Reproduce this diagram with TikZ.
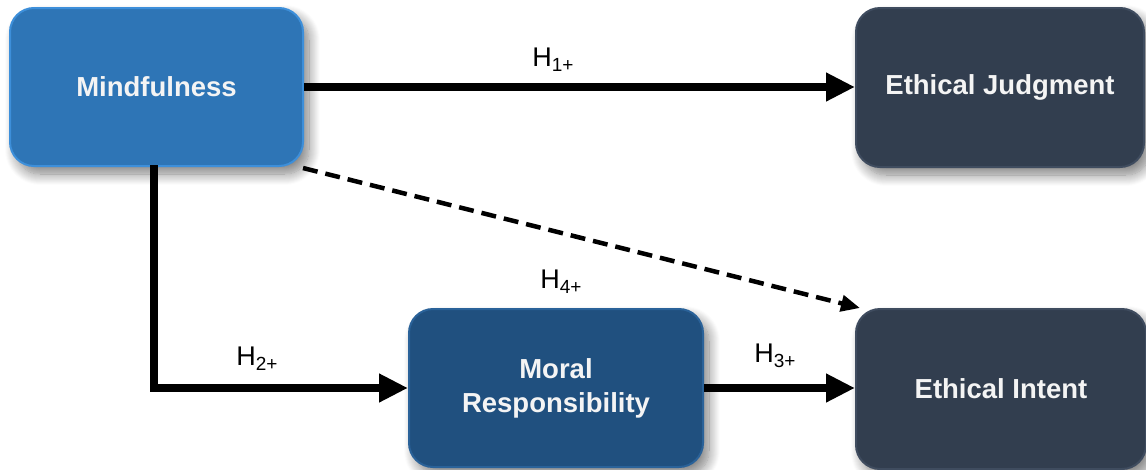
\documentclass[tikz,border=0pt]{standalone}
\usepackage{fontspec}
\setmainfont{Liberation Sans}
\usetikzlibrary{arrows.meta,shadows.blur}

\definecolor{mindblue}{HTML}{2E75B6}
\definecolor{mindedge}{HTML}{3D8FDA}
\definecolor{moralblue}{HTML}{20507F}
\definecolor{moraledge}{HTML}{2A6299}
\definecolor{slate}{HTML}{323E4F}
\definecolor{slateedge}{HTML}{3F4C5F}
\definecolor{boxtext}{HTML}{F4F4F4}

\newcommand{\hyp}[1]{H\raisebox{-0.34ex}{\fontsize{19}{19}\selectfont #1}}

\tikzset{
  varbox/.style={rounded corners=24pt, inner sep=0pt, align=center,
    text=boxtext, font=\bfseries\fontsize{27.5}{34}\selectfont,
    blur shadow={shadow xshift=6pt, shadow yshift=-8pt,
      shadow blur radius=11pt, shadow blur steps=12, shadow opacity=50}},
  path/.style={line width=8pt, -{Triangle[length=29pt,width=27pt]}},
  indirect/.style={line width=4.5pt, dash pattern=on 15pt off 8pt,
    -{Triangle[length=19pt,width=16pt]}},
  hlabel/.style={font=\fontsize{27}{27}\selectfont, inner sep=0pt}
}

\begin{document}
\begin{tikzpicture}[x=1pt,y=-1pt]
  \useasboundingbox (0,0) rectangle (1146,469);

  % variables
  \node[varbox, fill=mindblue, draw=mindedge, line width=2pt,
        minimum width=293pt, minimum height=158pt] (mind) at (156.5,87) {Mindfulness};
  \node[varbox, fill=slate, draw=slateedge, line width=2pt,
        minimum width=288pt, minimum height=159pt] (judg) at (1000,87.5) {Ethical Judgment};
  \node[varbox, fill=moralblue, draw=moraledge, line width=2pt,
        minimum width=294pt, minimum height=158pt] (moral) at (556,388) {Moral\\Responsibility};
  \node[varbox, fill=slate, draw=slateedge, line width=2pt,
        minimum width=290pt, minimum height=160pt] (intent) at (1001,389) {Ethical Intent};

  % connector end points
  \coordinate (bend) at (154,388);
  \coordinate (h4start) at (303,168);
  \coordinate (h4end) at (860,308);

  % hypothesised paths
  \draw[path] (mind.east |- 0,87) -- (judg.west |- 0,87);
  \draw[path, -] (154,165) -- ([yshift=4pt]bend);
  \draw[path] ([xshift=-4pt]bend) -- (moral.west |- bend);
  \draw[path] (moral.east |- 0,388) -- (intent.west |- 0,388);
  \draw[indirect] (h4start) -- (h4end);

  % labels
  \node[hlabel] (l1) at (553,60) {\hyp{1+}};
  \node[hlabel] (l2) at (257,359) {\hyp{2+}};
  \node[hlabel] (l3) at (775,356) {\hyp{3+}};
  \node[hlabel] (l4) at (561,282) {\hyp{4+}};
\end{tikzpicture}
\end{document}
